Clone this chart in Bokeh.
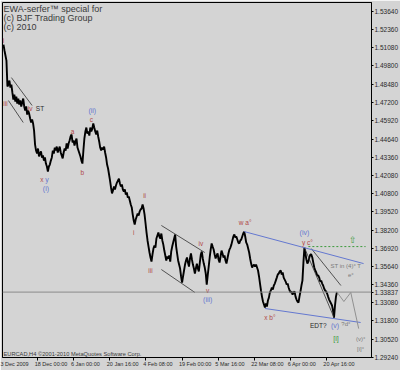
from bokeh.plotting import figure
from bokeh.models import Range1d, FixedTicker, Span, Label, NumeralTickFormatter, LinearAxis
from bokeh.core.properties import value
from bokeh.embed import file_html
from bokeh.resources import INLINE

# ---------------- data ----------------
# EURCAD closing prices, one value every 7 trading hours, first value at hour 13
START_HOUR = 13
STEP_HOURS = 7
close_seg1 = [1.5131, 1.5089, 1.5054, 1.5018, 1.4835, 1.4849, 1.4877, 1.4828, 1.4849, 1.4793,
              1.4743, 1.4778, 1.4729, 1.4764, 1.4715, 1.4750, 1.4708, 1.4736, 1.4694, 1.4722,
              1.4750, 1.4694, 1.4665, 1.4694, 1.4637, 1.4665, 1.4644, 1.4609, 1.4581, 1.4602,
              1.4574, 1.4524, 1.4425, 1.4383, 1.4362, 1.4397, 1.4341, 1.4362, 1.4376, 1.4334,
              1.4348, 1.4312, 1.4334, 1.4291, 1.4270, 1.4235, 1.4270, 1.4284, 1.4312, 1.4334,
              1.4383, 1.4362, 1.4404, 1.4383, 1.4411, 1.4369, 1.4390]
close_seg2 = [1.4411, 1.4369, 1.4348, 1.4327, 1.4369, 1.4397, 1.4383, 1.4433, 1.4397, 1.4433,
              1.4454, 1.4482, 1.4496, 1.4440, 1.4454, 1.4418, 1.4447, 1.4468, 1.4404, 1.4383,
              1.4362, 1.4341, 1.4312, 1.4291, 1.4383, 1.4468, 1.4517, 1.4545, 1.4503, 1.4517,
              1.4489, 1.4545, 1.4517, 1.4538, 1.4574, 1.4545, 1.4517, 1.4496, 1.4524, 1.4482,
              1.4447, 1.4404, 1.4383, 1.4404, 1.4390, 1.4411, 1.4369, 1.4334, 1.4284, 1.4256,
              1.4214, 1.4171, 1.4122, 1.4080, 1.4101, 1.4129, 1.4108]
close_seg3 = [1.4136, 1.4157, 1.4171, 1.4185, 1.4150, 1.4129, 1.4143, 1.4108, 1.4094, 1.4108,
              1.4072, 1.4087, 1.4051, 1.4058, 1.4030, 1.4002, 1.3981, 1.3931, 1.3889, 1.3861,
              1.3896, 1.3917, 1.3938, 1.3924, 1.3952, 1.3967, 1.3974, 1.4002, 1.3974, 1.3931,
              1.3868, 1.3804, 1.3748, 1.3705, 1.3663, 1.3628, 1.3599, 1.3649, 1.3691, 1.3712,
              1.3698, 1.3762, 1.3783, 1.3804, 1.3776, 1.3762, 1.3797, 1.3748, 1.3719, 1.3677,
              1.3642, 1.3607, 1.3635, 1.3621, 1.3642, 1.3599, 1.3670]
close_seg4 = [1.3705, 1.3734, 1.3762, 1.3790, 1.3705, 1.3656, 1.3607, 1.3578, 1.3550, 1.3494,
              1.3451, 1.3494, 1.3536, 1.3578, 1.3607, 1.3628, 1.3592, 1.3564, 1.3621, 1.3656,
              1.3614, 1.3578, 1.3550, 1.3515, 1.3550, 1.3585, 1.3550, 1.3529, 1.3592, 1.3649,
              1.3670, 1.3621, 1.3585, 1.3557, 1.3515, 1.3437, 1.3501, 1.3564, 1.3628, 1.3684,
              1.3727, 1.3705, 1.3684, 1.3649, 1.3621, 1.3642, 1.3656, 1.3614, 1.3592, 1.3635,
              1.3677, 1.3656, 1.3628, 1.3642, 1.3607, 1.3585, 1.3621]
close_seg5 = [1.3656, 1.3684, 1.3698, 1.3719, 1.3748, 1.3776, 1.3790, 1.3769, 1.3776, 1.3755,
              1.3734, 1.3727, 1.3748, 1.3755, 1.3776, 1.3797, 1.3811, 1.3776, 1.3734, 1.3719,
              1.3691, 1.3663, 1.3621, 1.3585, 1.3557, 1.3571, 1.3578, 1.3564, 1.3578, 1.3557,
              1.3536, 1.3494, 1.3444, 1.3395, 1.3352, 1.3317, 1.3296, 1.3275, 1.3303, 1.3282,
              1.3324, 1.3345, 1.3381, 1.3395, 1.3416, 1.3402, 1.3430, 1.3444, 1.3465, 1.3486,
              1.3508, 1.3515, 1.3529, 1.3536, 1.3508, 1.3522, 1.3486]
close_seg6 = [1.3472, 1.3458, 1.3437, 1.3444, 1.3416, 1.3395, 1.3381, 1.3388, 1.3366, 1.3381,
              1.3388, 1.3352, 1.3331, 1.3317, 1.3310, 1.3352, 1.3388, 1.3430, 1.3465, 1.3592,
              1.3698, 1.3656, 1.3614, 1.3585, 1.3599, 1.3628, 1.3649, 1.3649, 1.3628, 1.3592,
              1.3557, 1.3536, 1.3522, 1.3501, 1.3501, 1.3486, 1.3458, 1.3465, 1.3444, 1.3430,
              1.3409, 1.3395, 1.3388, 1.3374, 1.3352, 1.3331, 1.3317, 1.3303, 1.3289, 1.3253,
              1.3204, 1.3289, 1.3352, 1.3384]

CURRENT_PRICE = 1.33837

# axis ticks (trading hours from first bar) and labels
date_ticks = [0, 256, 512, 768, 1024, 1280, 1536, 1792, 2048, 2304]
date_labels = ["3 Dec 2009", "18 Dec 00:00", "6 Jan 00:00", "20 Jan 16:00", "4 Feb 08:00",
               "19 Feb 00:00", "5 Mar 16:00", "22 Mar 08:00", "6 Apr 00:00", "20 Apr 16:00"]
price_ticks = [1.53640, 1.52360, 1.51080, 1.49800, 1.48480, 1.47200, 1.45920, 1.44640,
               1.43360, 1.42080, 1.40800, 1.39520, 1.38200, 1.36920, 1.35640, 1.34360,
               1.33080, 1.31800, 1.30520, 1.29240]

# drawn trend lines (hour, price)
black_x0 = [69, 48, 1133, 1133, 2148, 2197]
black_y0 = [1.4898, 1.4736, 1.3854, 1.3543, 1.3698, 1.3691]
black_x1 = [216, 153, 1441, 1371, 2358, 2407]
black_y1 = [1.4701, 1.4581, 1.3663, 1.3381, 1.3204, 1.3430]
blue_x0 = [1721, 1868]
blue_y0 = [1.3811, 1.3268]
blue_x1 = [2568, 2547]
blue_y1 = [1.3585, 1.3169]
proj_hour = [2379, 2428, 2477, 2533]
proj_price = [1.3384, 1.3317, 1.3381, 1.3126]
target_hours = [2176, 2582]
target_price = 1.3705

# wave labels
red_text = ["i", "iii", "iv", "x", "a", "b", "c", "i", "ii", "iii", "iv", "v", "w a°", "x b°", "y c°"]
red_hour = [13, 27, 202, 286, 503, 573, 636, 937, 1014, 1056, 1413, 1462, 1728, 1903, 2169]
red_price = [1.5160, 1.4715, 1.4680, 1.4178, 1.4517, 1.4228, 1.4602, 1.3804, 1.4065, 1.3536,
             1.3727, 1.3395, 1.3875, 1.3204, 1.3734]
blue_text = ["y", "(i)", "(ii)", "(iii)", "(iv)", "(v)"]
blue_hour = [321, 314, 643, 1462, 2148, 2365]
blue_price = [1.4178, 1.4115, 1.4665, 1.3331, 1.3804, 1.3148]
gray_text = ["ST in (4)° T", "e°", "?d°", "(v)°", "[i]°"]
gray_hour = [2442, 2477, 2442, 2547, 2547]
gray_price = [1.3571, 1.3501, 1.3155, 1.3056, 1.2985]
dark_text = ["ST", "EDT?"]
dark_hour = [272, 2246]
dark_price = [1.4680, 1.3148]
green_text = ["[i]"]
green_hour = [2372]
green_price = [1.3056]
arrow_hour = [2491]
arrow_price = [1.3748]

header_lines = ["EWA-serfer™ special for", "(c) BJF Trading Group", "(c) 2010"]
footer_text = "EURCAD,H4 ©2001-2010 MetaQuotes Software Corp."

# ---------------- styling ----------------
BG = "#d4d4d4"
RED = "#b04848"
BLUE = "#6478d0"
GREEN = "#3c9a3c"
GRAY = "#7a7a7a"
DARK = "#2a2a2a"
NARROW = "'Liberation Sans Narrow', 'Liberation Sans', sans-serif"
SANS = "'Liberation Sans', sans-serif"
DATE_FONT_PX = 5.5
HOURS_PER_PX = 7

X_START, X_END = 6, 2624
Y_BOTTOM, Y_TOP = 1.2922, 1.5428

close = close_seg1 + close_seg2 + close_seg3 + close_seg4 + close_seg5 + close_seg6
hours = [START_HOUR + STEP_HOURS * i for i in range(len(close))]

p = figure(width=400, height=370, output_backend="svg", toolbar_location=None,
           x_range=Range1d(X_START, X_END), y_range=Range1d(Y_BOTTOM, Y_TOP),
           y_axis_location="right", min_border_left=2, min_border_right=24,
           min_border_top=2, min_border_bottom=13)
p.background_fill_color = BG
p.border_fill_color = BG
p.outline_line_color = "black"
p.outline_line_width = 1
p.grid.visible = False

ya = p.yaxis[0]
ya.ticker = FixedTicker(ticks=sorted(price_ticks + [CURRENT_PRICE]))
ya.formatter = NumeralTickFormatter(format="0.00000")
ya.major_label_text_font = NARROW
ya.major_label_text_font_size = "6.5px"
ya.major_label_text_color = DARK
ya.major_tick_out = 2
ya.major_tick_in = 0
ya.minor_tick_line_color = None
ya.major_label_standoff = 1
ya.axis_line_color = "black"

# tick marks of the time axis (no labels)
xa = p.xaxis[0]
xa.ticker = FixedTicker(ticks=date_ticks[1:])
xa.major_label_overrides = {t: "" for t in date_ticks[1:]}
xa.major_label_text_font_size = "0px"
xa.major_label_standoff = 0
xa.major_tick_out = 3
xa.major_tick_in = 0
xa.minor_tick_line_color = None
xa.axis_line_color = "black"

# time labels: MT4 writes them starting at the tick, so centre each one half its width right
CHAR_EM = {" ": 0.278, ":": 0.278, "D": 0.722, "J": 0.5, "F": 0.611, "M": 0.833, "A": 0.667,
           "e": 0.556, "c": 0.5, "a": 0.556, "n": 0.556, "b": 0.556, "r": 0.333, "p": 0.556}
def half_width_hours(s):
    em = sum(CHAR_EM.get(ch, 0.556) for ch in s)
    return 0.5 * em * 0.82 * DATE_FONT_PX * HOURS_PER_PX

label_pos = [max(t, X_START - HOURS_PER_PX) + half_width_hours(s) for t, s in zip(date_ticks, date_labels)]
label_pos = [round(v) for v in label_pos]
xa2 = LinearAxis(ticker=FixedTicker(ticks=label_pos),
                 major_label_overrides={v: s for v, s in zip(label_pos, date_labels)})
xa2.axis_line_color = None
xa2.major_tick_line_color = None
xa2.minor_tick_line_color = None
xa2.major_tick_out = 0
xa2.major_tick_in = 0
xa2.major_label_standoff = 0
xa2.major_label_text_font = NARROW
xa2.major_label_text_font_size = f"{DATE_FONT_PX}px"
xa2.major_label_text_color = DARK
p.add_layout(xa2, "below")

# current price line
p.add_layout(Span(location=CURRENT_PRICE, dimension="width", line_color="#8a8a8a", line_width=1))

# price series
p.line(hours, close, line_color="black", line_width=1.9)

# trend lines
p.segment(x0=black_x0, y0=black_y0, x1=black_x1, y1=black_y1, line_color="#303030", line_width=0.8)
p.segment(x0=blue_x0, y0=blue_y0, x1=blue_x1, y1=blue_y1, line_color=BLUE, line_width=1)
p.line(proj_hour, proj_price, line_color="#909090", line_width=1)
p.line(target_hours, [target_price, target_price], line_color=GREEN, line_width=1, line_dash="2 2")

# wave labels
def add_text(xs, ys, texts, color, size, font=SANS):
    p.text(x=xs, y=ys, text=texts, text_color=color, text_font=value(font),
           text_font_size=value(size), text_align="center", text_baseline="middle")

add_text(red_hour, red_price, red_text, RED, "6.5px")
add_text(blue_hour, blue_price, blue_text, BLUE, "7px")
add_text(gray_hour, gray_price, gray_text, GRAY, "6px")
add_text(dark_hour, dark_price, dark_text, DARK, "6.5px")
add_text(green_hour, green_price, green_text, GREEN, "7px")
add_text(arrow_hour, arrow_price, ["⇧"], GREEN, "9px", "DejaVu Sans")

# header / footer
for i, line in enumerate(header_lines):
    p.add_layout(Label(x=X_START, y=Y_TOP, x_offset=1, y_offset=-6 - 9.2 * i, text=line,
                       text_baseline="middle", text_align="left", text_font=SANS,
                       text_font_size="9px", text_color="#3a3a3a"))
p.add_layout(Label(x=X_START, y=Y_BOTTOM, x_offset=1, y_offset=1, text=footer_text,
                   text_baseline="bottom", text_align="left", text_font=SANS,
                   text_font_size="5.7px", text_color="#3a3a3a"))

open("out.html", "w").write(file_html(p, INLINE))
